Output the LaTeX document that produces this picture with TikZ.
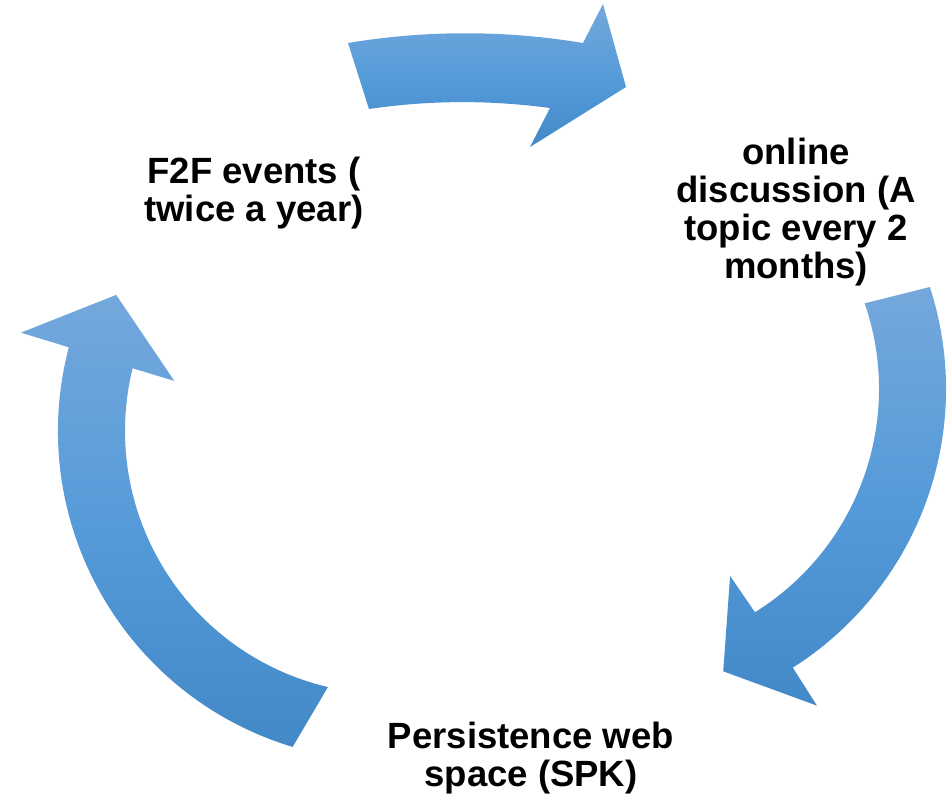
\documentclass[tikz,border=0pt]{standalone}
\usepackage{fontspec}
\setmainfont{Liberation Sans}
\usepackage{tikz}
\usetikzlibrary{calc}

\definecolor{arrowtop}{RGB}{116,168,220}
\definecolor{arrowmid}{RGB}{86,155,217}
\definecolor{arrowbot}{RGB}{67,136,199}

\begin{document}
\begin{tikzpicture}[x=1pt, y=-1pt,
  % common options for the curved arrows:
  cyclearrow/.style = {top color=arrowtop, bottom color=arrowbot,
              middle color=arrowmid, draw=none},
  % common options for the texts:
  stage/.style = {align=center, inner sep=0,
              font=\fontsize{36.5}{37.8}\selectfont\bfseries}
	]

  \useasboundingbox (0,0) rectangle (948,796);

  \coordinate (rc) at (616,389);
  \coordinate (lc) at (388,431);

  % top arrow
  \shade[cyclearrow] (348,43) .. controls (426,30) and (505,30) .. (583,43)
    -- (603,4) -- (626,87) -- (530,147) -- (550,108)
    .. controls (490,100) and (430,100) .. (369,109) -- cycle;

  % right arrow
  \shade[cyclearrow] ($(rc)+(-18:330)$) arc[start angle=-18, end angle=57.6, radius=330]
    -- ($(rc)+(57.6:375)$) -- ($(rc)+(69.2:302)$) -- ($(rc)+(58.6:219)$)
    -- ($(rc)+(58.1:263)$) arc[start angle=58.1, end angle=-19, radius=263] -- cycle;

  % left arrow
  \shade[cyclearrow] ($(lc)+(106.8:330)$) arc[start angle=106.8, end angle=194.7, radius=330]
    -- ($(lc)+(195:380)$) -- ($(lc)+(206.6:304)$) -- ($(lc)+(193.2:219.5)$)
    -- ($(lc)+(193.8:263)$) arc[start angle=193.8, end angle=103.2, radius=263] -- cycle;

  \node[stage] (f2f) at (254,193) {F2F events (\\twice a year)};
  \node[stage] (online) at (796,212) {online\\discussion (A\\topic every 2\\months)};
  \node[stage] (spk) at (531,758) {Persistence web\\space (SPK)};
\end{tikzpicture}
\end{document}
